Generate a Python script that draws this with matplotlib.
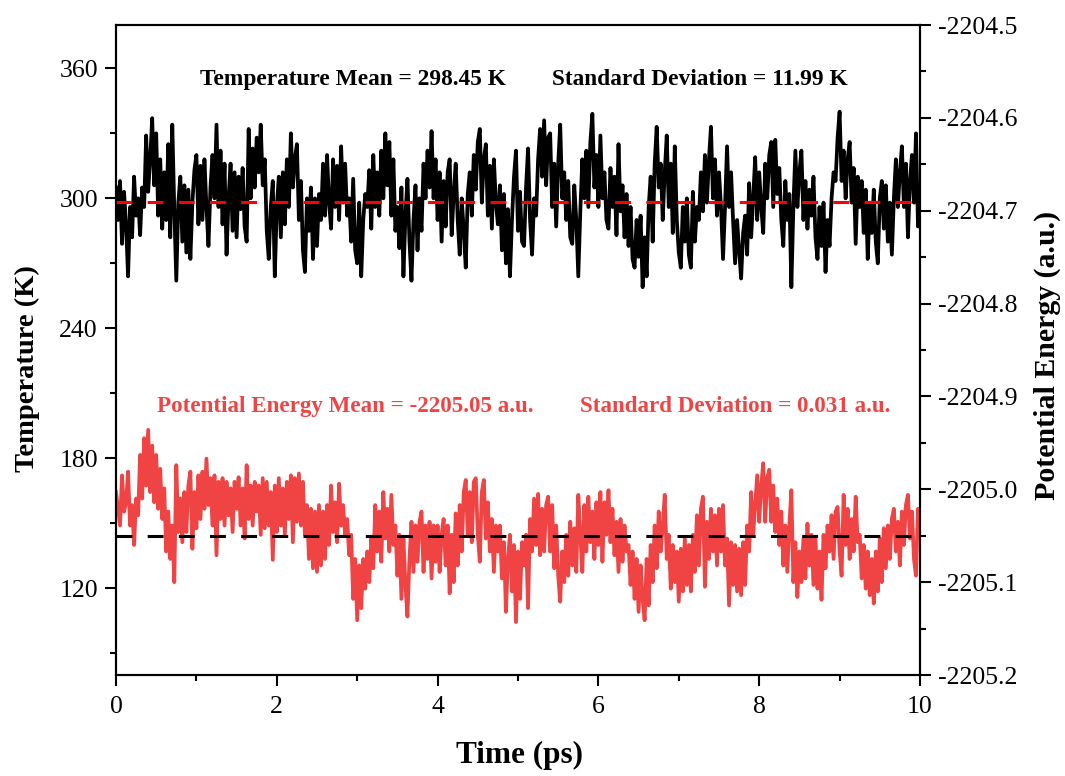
import numpy as np
import matplotlib
matplotlib.use("Agg")
import matplotlib.pyplot as plt
from matplotlib.ticker import MultipleLocator, FormatStrFormatter

plt.rcParams['font.family'] = ['Liberation Serif', 'DejaVu Serif']
plt.rcParams['axes.unicode_minus'] = False

# ---------------- data ----------------
temperature = [
    305, 290, 308, 279, 303, 288, 264, 296, 282, 310,
    292, 300, 283, 305, 296, 329, 303, 318, 337, 306,
    330, 292, 318, 286, 312, 290, 325, 282, 334, 295,
    262, 298, 310, 280, 306, 275, 304, 272, 298, 313,
    320, 288, 315, 290, 318, 296, 278, 305, 320, 300,
    334, 296, 322, 288, 316, 274, 300, 316, 285, 312,
    282, 310, 295, 314, 287, 280, 332, 300, 323, 305,
    328, 312, 334, 306, 318, 285, 272, 296, 308, 264,
    296, 310, 282, 312, 288, 318, 296, 330, 305, 318,
    325, 290, 308, 276, 266, 300, 285, 305, 272, 300,
    278, 302, 290,
    316, 292, 320, 298, 286, 318, 296, 315, 290, 324,
    298, 316, 292, 300, 280, 309, 276, 270, 298, 264,
    290, 302, 296, 313, 286, 320, 296, 312, 292, 322,
    300, 330, 306, 326, 292, 318, 285, 296, 277, 305,
    264, 292, 309, 280, 262, 290, 306, 276, 300, 285,
    316, 300, 322, 305, 331, 300, 318, 290, 312, 280,
    308, 287, 312, 318, 283, 302, 316, 290, 274, 300,
    285, 268, 302, 312, 292, 320, 304, 326, 332, 298,
    318, 325, 292, 315, 286, 318, 298, 288, 306, 276,
    302, 270, 295, 264, 290, 310, 322, 285, 303, 280,
    278, 305, 323, 290, 274, 300, 292, 318, 332, 310,
    336, 306, 328, 330, 296, 316, 287, 316, 334, 300,
    312, 290, 308, 282, 279, 306, 290, 264, 294, 318,
    300, 322, 296, 326, 339, 305, 320, 296, 329, 300,
    312, 290, 286, 314, 296, 310, 283, 325, 294, 306,
    282, 302, 278, 296, 272, 268, 290, 273, 292, 259,
    282, 264, 296, 310, 280, 316, 333, 305, 316, 290,
    312, 329, 296, 316, 284, 324, 290, 275, 268, 296,
    280, 300, 274, 268, 303, 280, 296, 290, 312, 294,
    320, 298, 318, 333, 300, 318, 292, 312, 296,
    272, 296, 324, 296, 312, 290, 270, 290, 276, 263,
    284, 292, 274, 307, 282, 300, 319, 290, 312, 296,
    284, 316, 300, 320, 326, 296, 327, 302, 314, 290,
    278, 308, 290, 302, 259, 296, 322, 296, 312, 322,
    290, 308, 286, 304, 292, 310, 282, 272, 296, 278,
    298, 266, 290, 278, 300, 312, 308, 328, 340, 308,
    322, 300, 318, 326, 298, 314, 279, 310, 296, 308,
    284, 304, 272, 298, 284, 304, 280, 270, 300, 308,
    286, 306, 280, 298, 274, 300, 318, 296, 312, 324,
    296, 316, 282, 308, 320, 298, 330, 287, 306,
]

potential_energy = [
    -2205.003, -2205.021, -2205.039, -2204.985, -2205.024, -2205.014, -2204.981, -2205.039, -2205.017, -2205.060,
    -2205.010, -2205.028, -2204.963, -2205.010, -2204.945, -2204.996, -2204.936, -2205.003, -2204.953, -2205.014,
    -2204.963, -2205.021, -2204.978, -2205.032, -2204.999, -2205.067, -2205.024, -2205.075, -2205.039, -2205.100,
    -2204.974, -2205.046, -2205.010, -2205.057, -2205.003, -2205.046, -2204.996, -2204.981, -2205.064, -2205.003,
    -2205.042, -2204.985, -2205.032, -2204.981, -2205.021, -2204.967, -2205.017, -2204.988, -2205.039, -2204.985,
    -2205.071, -2204.992, -2205.032, -2204.988, -2205.039, -2204.992, -2205.028, -2204.999, -2205.046, -2204.992,
    -2205.021, -2204.987, -2205.039, -2204.999, -2205.053, -2204.974, -2205.032, -2204.996, -2205.039, -2204.992,
    -2205.024, -2204.996, -2205.049, -2204.988, -2205.042, -2204.992, -2205.039, -2205.003, -2205.076, -2204.996,
    -2205.046, -2204.988, -2205.039, -2204.999, -2205.049, -2204.992, -2205.032, -2204.985, -2205.057, -2204.988,
    -2205.035, -2204.983, -2205.039, -2204.992, -2205.049, -2205.017, -2205.075, -2205.021, -2205.085, -2205.024,
    -2205.089, -2205.017, -2205.082,
    -2205.024, -2205.075, -2205.017, -2205.060, -2204.996, -2205.046, -2205.014,
    -2205.057, -2204.994, -2205.039, -2205.017, -2205.049, -2205.032, -2205.071, -2205.049, -2205.118, -2205.075,
    -2205.141, -2205.082, -2205.128, -2205.075, -2205.107, -2205.067, -2205.100, -2205.053, -2205.085, -2205.017,
    -2205.067, -2205.024, -2205.078, -2205.003, -2205.053, -2205.021, -2205.067, -2205.006, -2205.060, -2205.039,
    -2205.093, -2205.049, -2205.118, -2205.053, -2205.103, -2205.137, -2205.075, -2205.035, -2205.089, -2205.039,
    -2205.078, -2205.035, -2205.024, -2205.089, -2205.039, -2205.075, -2205.035, -2205.096, -2205.039, -2205.078,
    -2205.039, -2205.089, -2205.049, -2205.032, -2205.082, -2205.039, -2205.112, -2205.049, -2205.100, -2205.026,
    -2205.082, -2205.017, -2205.067, -2205.003, -2204.990, -2205.049, -2205.003, -2205.057, -2204.992, -2204.988,
    -2205.049, -2205.078, -2205.003, -2204.990, -2205.053, -2205.014, -2205.067, -2205.032, -2205.089, -2205.039,
    -2205.067, -2205.039, -2205.096, -2205.057, -2205.132, -2205.075, -2205.049, -2205.110, -2205.060, -2205.143,
    -2205.067, -2205.118, -2205.057,
    -2205.082, -2205.049, -2205.128, -2205.032, -2205.067, -2205.010, -2205.060,
    -2205.005, -2205.071, -2205.021, -2205.067, -2205.017, -2205.008, -2205.067, -2205.017, -2205.085, -2205.039,
    -2205.093, -2205.121, -2205.067, -2205.100, -2205.049, -2205.093, -2205.035, -2205.082, -2205.042, -2205.089,
    -2205.006, -2205.049, -2205.089, -2205.017, -2205.067, -2205.008, -2205.057, -2205.024, -2205.075, -2205.014,
    -2205.060, -2205.003, -2205.078, -2205.014, -2205.049, -2205.001, -2205.057, -2205.021, -2205.071, -2205.035,
    -2205.089, -2205.032, -2205.078, -2205.039, -2205.067, -2205.060, -2205.103, -2205.067, -2205.118, -2205.075,
    -2205.132, -2205.082, -2205.118, -2205.141, -2205.075, -2205.125, -2205.060, -2205.100, -2205.039, -2205.085,
    -2205.024, -2205.067, -2205.039, -2205.006, -2205.075, -2205.049, -2205.107, -2205.060, -2205.100, -2205.067,
    -2205.121, -2205.064, -2205.110, -2205.053, -2205.103, -2205.060, -2205.110, -2205.049, -2205.089, -2205.028,
    -2205.082, -2205.021, -2205.008, -2205.105, -2205.035, -2205.075, -2205.021, -2205.067, -2205.028, -2205.082,
    -2205.021, -2205.067,
    -2205.017, -2205.082, -2205.053, -2205.125, -2205.057, -2205.103, -2205.060, -2205.110,
    -2205.064, -2205.114, -2205.057, -2205.103, -2205.039, -2205.067, -2205.003, -2205.049, -2205.017, -2204.985,
    -2205.035, -2204.996, -2204.972, -2205.035, -2204.988, -2204.979, -2205.035, -2204.996, -2205.046, -2205.010,
    -2205.060, -2205.024, -2205.082, -2205.039, -2205.089, -2205.039, -2205.001, -2205.100, -2205.057, -2205.116,
    -2205.067, -2205.100, -2205.053, -2205.096, -2205.037, -2205.082, -2205.049, -2205.103, -2205.053, -2205.107,
    -2205.067, -2205.119, -2205.049, -2205.085, -2205.039, -2205.067, -2205.028, -2205.075, -2205.024, -2205.019,
    -2205.067, -2205.093, -2205.006, -2205.060, -2205.021, -2205.075, -2205.032, -2205.067, -2205.008, -2205.057,
    -2205.049, -2205.096, -2205.060, -2205.107, -2205.067, -2205.114, -2205.075, -2205.123, -2205.067, -2205.110,
    -2205.053, -2205.100, -2205.042, -2205.085, -2205.039, -2205.075, -2205.032, -2205.021, -2205.067, -2205.035,
    -2205.082, -2205.024, -2205.060, -2205.017, -2205.006, -2205.053, -2205.024, -2205.075, -2205.093, -2205.021,
    -2205.049,
]

temperature_mean = 298.45
temperature_std = 11.99
energy_mean = -2205.05
energy_std = 0.031

x_ticks = [0, 2, 4, 6, 8, 10]
t_ticks = [120, 180, 240, 300, 360]
e_ticks = [-2205.2, -2205.1, -2205.0, -2204.9, -2204.8, -2204.7, -2204.6, -2204.5]

time_T = np.linspace(0, 10, len(temperature))
time_E = np.linspace(0, 10, len(potential_energy))

# ---------------- figure ----------------
fig = plt.figure(figsize=(10.65, 7.76), dpi=100)
ax1 = fig.add_axes([116 / 1065, 1 - 675 / 776, (920 - 116) / 1065, 650 / 776])
ax2 = ax1.twinx()

BLACK = '#000000'
RED_LINE = '#F04444'
RED_TEXT = '#F04444'

ax1.plot(time_T, temperature, color=BLACK, lw=2.7, zorder=2, solid_joinstyle='round')
ax1.axhline(temperature_mean, color='#FF0000', lw=2.2, dashes=(5.2, 5.0), zorder=3)

ax2.plot(time_E, potential_energy, color=RED_LINE, lw=2.7, zorder=2, solid_joinstyle='round')
ax2.axhline(energy_mean, color=BLACK, lw=2.2, dashes=(5.2, 5.0), zorder=3)

ax1.set_xlim(0, 10)
ax1.set_ylim(80, 380)
ax2.set_ylim(-2205.2, -2204.5)

ax1.set_xticks(x_ticks)
ax1.xaxis.set_minor_locator(MultipleLocator(1))
ax1.set_yticks(t_ticks)
ax1.yaxis.set_minor_locator(MultipleLocator(30))
ax2.set_yticks(e_ticks)
ax2.yaxis.set_minor_locator(MultipleLocator(0.05))
ax2.yaxis.set_major_formatter(FormatStrFormatter('%.1f'))

for ax in (ax1, ax2):
    for sp in ax.spines.values():
        sp.set_linewidth(1.5)
    ax.tick_params(which='major', direction='out', length=8, width=1.5, labelsize=18.5, pad=5)
    ax.tick_params(which='minor', direction='out', length=4, width=1.5)
ax1.tick_params(axis='x', which='major', pad=7)
ax1.tick_params(axis='y', which='both', right=False)
ax1.tick_params(axis='x', which='both', top=False)

fig.text(519 / 1065, 1 - 755 / 776, 'Time (ps)', fontsize=22.5, fontweight='bold',
         ha='center', va='center')
fig.text(27 / 1065, 1 - 369 / 776, 'Temperature (K)', fontsize=20.5, fontweight='bold',
         rotation=90, ha='center', va='center')
fig.text(1047 / 1065, 1 - 355 / 776, 'Potential Energy (a.u.)', fontsize=21.5, fontweight='bold',
         rotation=90, ha='center', va='center')

ax1.text(1.05, 354.9, f'Temperature Mean = {temperature_mean:.2f} K', fontsize=16.8,
         fontweight='bold', color=BLACK, ha='left', va='center')
ax1.text(5.42, 354.9, f'Standard Deviation = {temperature_std:.2f} K', fontsize=16.8,
         fontweight='bold', color=BLACK, ha='left', va='center')
ax1.text(0.51, 203.9, f'Potential Energy Mean = {energy_mean:.2f} a.u.', fontsize=16.6,
         fontweight='bold', color=RED_TEXT, ha='left', va='center', zorder=5)
ax1.text(5.77, 203.9, f'Standard Deviation = {energy_std:.3f} a.u.', fontsize=16.6,
         fontweight='bold', color=RED_TEXT, ha='left', va='center', zorder=5)

fig.savefig('out.png', dpi=100)
